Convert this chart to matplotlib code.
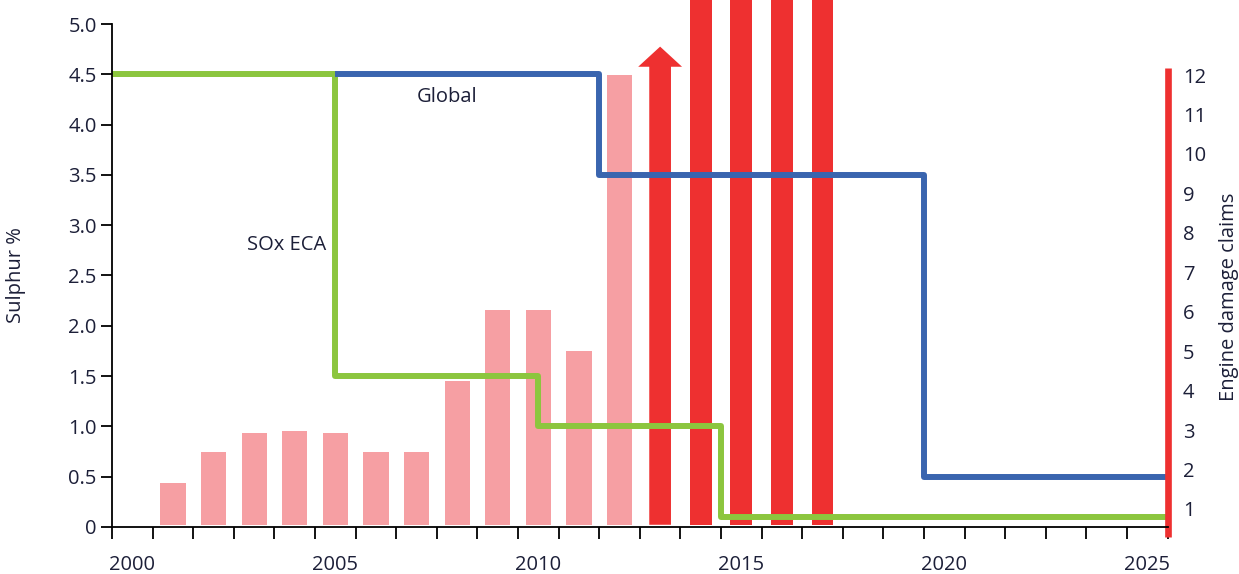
import matplotlib
matplotlib.use("Agg")
import matplotlib.pyplot as plt
from matplotlib.patches import FancyArrow
import numpy as np

plt.rcParams['font.family'] = ['Open Sans', 'DejaVu Sans']

# ---------------- data ----------------
# Sulphur limits (step lines, left axis, %)
eca_x = [1999.5, 2005, 2010, 2014.5, 2025.5]
eca_y = [4.5, 1.5, 1.0, 0.1, 0.1]
global_x = [2005, 2011.5, 2019.5, 2025.5]
global_y = [4.5, 3.5, 0.5, 0.5]

# Engine damage claims (bars, right axis)
pink_years = [2001, 2002, 2003, 2004, 2005, 2006, 2007, 2008, 2009, 2010, 2011, 2012]
pink_claims = [1.67, 2.45, 2.93, 2.97, 2.93, 2.45, 2.45, 4.24, 6.05, 6.05, 5.0, 12.0]
red_years = [2014, 2015, 2016, 2017]
red_claims = [15, 15, 15, 15]          # off the scale
arrow_year = 2013
arrow_claims = 12.72                    # arrow tip (off-scale indicator)

left_ticks = [0, 0.5, 1.0, 1.5, 2.0, 2.5, 3.0, 3.5, 4.0, 4.5, 5.0]
left_ticklabels = ['0', '0.5', '1.0', '1.5', '2.0', '2.5', '3.0', '3.5', '4.0', '4.5', '5.0']
right_ticks = list(range(1, 13))
x_labels = [2000, 2005, 2010, 2015, 2020, 2025]

# ---------------- style ----------------
PINK = '#F69FA3'
RED = '#EE3030'
GREEN = '#8CC63E'
BLUE = '#3A65AF'
TXT = '#1c1f38'
FS = 14.5
BAR_BASE = 0.6

fig = plt.figure(figsize=(12.39, 5.74), dpi=100)
ax = fig.add_axes([0.0905, 0.0819, 0.8518, 0.9181])   # left scale: lines
ax2 = ax.twinx()                                       # right scale: bars
ax.set_zorder(ax2.get_zorder() + 1)
ax.patch.set_visible(False)

# bars
ax2.bar(pink_years, np.array(pink_claims) - BAR_BASE, bottom=BAR_BASE, width=0.62,
        color=PINK, linewidth=0)
ax2.bar(red_years, np.array(red_claims) - BAR_BASE, bottom=BAR_BASE, width=0.54,
        color=RED, linewidth=0)
ax2.add_patch(FancyArrow(arrow_year, BAR_BASE, 0, arrow_claims - BAR_BASE,
                         width=0.535, head_width=1.08, head_length=0.51,
                         length_includes_head=True, color=RED, linewidth=0))
ax2.set_ylim(0.5437, 13.902)

# lines
ax.plot(eca_x, eca_y, drawstyle='steps-post', color=GREEN, lw=4.3,
        solid_joinstyle='round', solid_capstyle='butt')
ax.plot(global_x, global_y, drawstyle='steps-post', color=BLUE, lw=4.3,
        solid_joinstyle='round', solid_capstyle='butt')
ax.set_ylim(0, 5.2386)
ax.set_xlim(1999.5, 2025.5)

ax.text(2007.75, 4.27, 'Global', fontsize=FS, color=TXT, ha='center', va='center')
ax.text(2003.8, 2.80, 'SOx ECA', fontsize=FS, color=TXT, ha='center', va='center')

# --- axes decorations ---
ax.spines['top'].set_visible(False)
for s in ['top', 'left', 'bottom', 'right']:
    ax2.spines[s].set_visible(False)

ax.spines['left'].set_bounds(0, 5.0)
ax.spines['left'].set_linewidth(1.3)
ax.spines['bottom'].set_linewidth(1.3)
ax.spines['right'].set_color(RED)
ax.spines['right'].set_linewidth(4.8)
ax.spines['right'].set_bounds(-0.1, 4.56)
ax.spines['right'].set_capstyle('butt')

ax.set_yticks(left_ticks)
ax.set_yticklabels(left_ticklabels)
ax.tick_params(axis='y', which='major', length=8, width=1.3, pad=3,
               labelsize=FS, labelcolor=TXT, direction='out', right=False)

ax.set_xticks(x_labels)
ax.set_xticks(np.arange(1999.5, 2026.0, 1.0), minor=True)
ax.tick_params(axis='x', which='major', length=0, pad=20, labelsize=FS, labelcolor=TXT)
ax.tick_params(axis='x', which='minor', length=8.5, width=1.3, direction='out')

ax2.set_yticks(right_ticks)
ax2.tick_params(axis='y', which='major', length=0, pad=11, labelsize=FS, labelcolor=TXT)

ax.set_ylabel('Sulphur %', fontsize=FS, color=TXT)
ax.yaxis.set_label_coords(-0.0816, 0.478)
ax2.set_ylabel('Engine damage claims', fontsize=FS, color=TXT)
ax2.yaxis.set_label_coords(1.0488, 0.436)

fig.savefig('out.png', dpi=100)
